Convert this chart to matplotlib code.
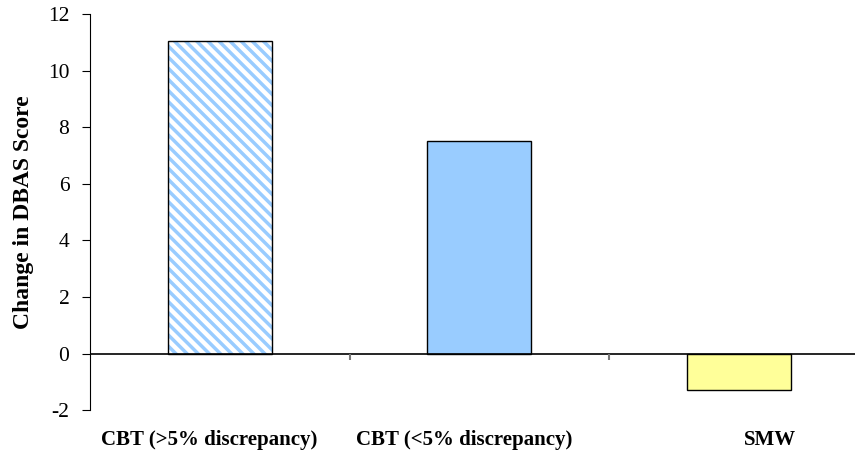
import numpy as np
import matplotlib.pyplot as plt
import matplotlib.transforms as mtransforms

plt.rcParams['font.family'] = ['Liberation Serif', 'DejaVu Serif']
plt.rcParams['axes.unicode_minus'] = False
plt.rcParams['hatch.linewidth'] = 2.5

categories = ['CBT (>5% discrepancy)', 'CBT (<5% discrepancy)', 'SMW']
changes = [11.05, 7.5, -1.3]
fills = ['white', '#99CCFF', '#FFFF99']
hatches = ['\\\\\\', None, None]
label_shift_px = [-11, -15, 31]  # labels sit a bit off the bar centres

fig = plt.figure(figsize=(8.58, 4.63), dpi=100)
ax = fig.add_axes([0.105, 0.114, 0.892, 0.856])

x = np.arange(len(categories))
bars = ax.bar(x, changes, width=0.40, color=fills, edgecolor='black', linewidth=1)
for b, h in zip(bars, hatches):
    if h:
        b.set_hatch(h)
        b._hatch_color = (0.6, 0.8, 1.0, 1.0)

ax.set_xlim(-0.5, len(categories) - 0.55)
ax.set_ylim(-2, 12)
ax.set_yticks(range(-2, 13, 2))
ax.tick_params(axis='y', direction='out', length=6, labelsize=15.5, pad=9)

# x axis at zero with category separators
ax.axhline(0, color='black', lw=1.2)
ax.vlines(x[:-1] + 0.5, -0.22, 0, color='#777777', lw=1.5)
ax.set_xticks(x)
ax.set_xticklabels(categories, fontsize=15, fontweight='bold')
ax.tick_params(axis='x', length=0, pad=14)
for lab, dx in zip(ax.get_xticklabels(), label_shift_px):
    lab.set_transform(lab.get_transform() +
                      mtransforms.ScaledTranslation(dx / 100, 0, fig.dpi_scale_trans))

for s in ['top', 'right', 'bottom']:
    ax.spines[s].set_visible(False)

ax.set_ylabel('Change in DBAS Score', fontsize=17, fontweight='bold', labelpad=10)

fig.savefig('out.png', dpi=100)
